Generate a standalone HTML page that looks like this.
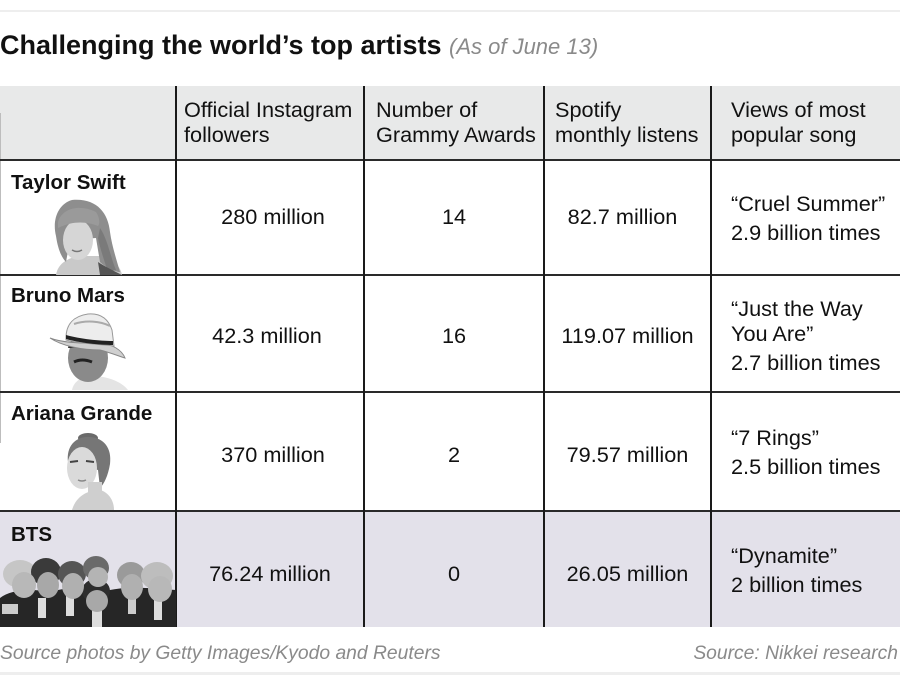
<!DOCTYPE html>
<html>
<head>
<meta charset="utf-8">
<style>
  html,body{margin:0;padding:0;background:#fff;}
  body{width:900px;height:675px;position:relative;overflow:hidden;font-family:"Liberation Sans",Arial,sans-serif;color:#111;}
  .a{position:absolute;white-space:nowrap;}
  .t{font-size:21.7px;line-height:25px;}
  .c{text-align:center;}
  .hl{position:absolute;left:0;width:900px;height:2px;background:#2a2a2a;}
  .vl{position:absolute;width:2px;background:#1a1a1a;top:86px;height:541px;}
  .nm{font-size:20.5px;font-weight:bold;line-height:20.5px;left:11px;}
</style>
</head>
<body>
<div class="a" style="left:0;top:10px;width:900px;height:2px;background:#eeeeee;"></div>
<div class="a" style="left:0;top:672px;width:900px;height:3px;background:#eeeeee;"></div>

<div class="a" style="left:0;top:32px;font-size:27px;line-height:27px;font-weight:bold;color:#111;">Challenging the world’s top artists</div>
<div class="a" style="left:449px;top:36px;font-size:22px;line-height:22px;font-style:italic;color:#8a8a8a;">(As of June 13)</div>

<div class="a" style="left:0;top:86px;width:900px;height:73px;background:#e8e9e9;"></div>
<div class="a" style="left:0;top:512px;width:900px;height:115px;background:#e3e1ea;"></div>

<div class="a" style="left:0;top:113px;width:1px;height:330px;background:#bdbdbd;"></div>

<div class="hl" style="top:159px;"></div>
<div class="hl" style="top:274px;"></div>
<div class="hl" style="top:391px;"></div>
<div class="hl" style="top:510px;"></div>

<div class="vl" style="left:175px;"></div>
<div class="vl" style="left:363px;"></div>
<div class="vl" style="left:543px;"></div>
<div class="vl" style="left:710px;"></div>

<div class="a t" style="left:184px;top:97px;">Official Instagram<br>followers</div>
<div class="a t" style="left:376px;top:97px;">Number of<br>Grammy Awards</div>
<div class="a t" style="left:555px;top:97px;">Spotify<br>monthly listens</div>
<div class="a t" style="left:731px;top:97px;">Views of most<br>popular song</div>

<div class="a nm" style="top:173px;">Taylor Swift</div>
<div class="a nm" style="top:286px;">Bruno Mars</div>
<div class="a nm" style="top:404px;">Ariana Grande</div>
<div class="a nm" style="top:525px;">BTS</div>

<div class="a t c" style="left:177px;width:192px;top:204px;">280 million</div>
<div class="a t c" style="left:365px;width:178px;top:204px;">14</div>
<div class="a t c" style="left:545px;width:155px;top:204px;">82.7 million</div>
<div class="a t" style="left:731px;top:191px;">“Cruel Summer”</div>
<div class="a t" style="left:731px;top:220px;">2.9 billion times</div>

<div class="a t c" style="left:177px;width:180px;top:323px;">42.3 million</div>
<div class="a t c" style="left:365px;width:178px;top:323px;">16</div>
<div class="a t c" style="left:545px;width:165px;top:323px;">119.07 million</div>
<div class="a t" style="left:731px;top:296px;">“Just the Way<br>You Are”</div>
<div class="a t" style="left:731px;top:350px;">2.7 billion times</div>

<div class="a t c" style="left:177px;width:192px;top:442px;">370 million</div>
<div class="a t c" style="left:365px;width:178px;top:442px;">2</div>
<div class="a t c" style="left:545px;width:165px;top:442px;">79.57 million</div>
<div class="a t" style="left:731px;top:425px;">“7 Rings”</div>
<div class="a t" style="left:731px;top:454px;">2.5 billion times</div>

<div class="a t c" style="left:177px;width:186px;top:561px;">76.24 million</div>
<div class="a t c" style="left:365px;width:178px;top:561px;">0</div>
<div class="a t c" style="left:545px;width:165px;top:561px;">26.05 million</div>
<div class="a t" style="left:731px;top:543px;">“Dynamite”</div>
<div class="a t" style="left:731px;top:572px;">2 billion times</div>

<div class="a" style="left:0;top:644px;font-size:19.3px;line-height:19px;font-style:italic;color:#8a8a8a;">Source photos by Getty Images/Kyodo and Reuters</div>
<div class="a" style="right:2px;top:644px;font-size:19.3px;line-height:19px;font-style:italic;color:#8a8a8a;">Source: Nikkei research</div>

<svg class="a" style="left:0;top:0;" width="900" height="675" viewBox="0 0 900 675">
  <!-- Taylor Swift -->
  <g>
    <path d="M56 275 C58 262 70 258 78 256 L100 256 C110 258 120 264 122 275 Z" fill="#c9c9c9"/>
    <path d="M72 200 C58 204 52 220 56 236 C58 250 62 258 66 262 L70 240 L96 238 L100 262 C106 268 116 272 120 272 C116 258 112 246 110 232 C108 212 96 198 72 200 Z" fill="#8e8e8e"/>
    <ellipse cx="78" cy="240" rx="15" ry="20" fill="#d6d6d6"/>
    <path d="M58 222 C62 208 80 204 96 212 C100 218 100 224 98 226 C88 222 74 220 58 228 Z" fill="#9a9a9a"/>
    <path d="M100 228 C108 240 110 256 116 270 L108 272 C104 260 100 248 98 238 Z" fill="#7a7a7a"/>
    <path d="M98 262 C104 266 112 270 120 274 L122 275 L100 275 Z" fill="#555"/>
    <path d="M72 250 Q77 253 82 250" stroke="#777" stroke-width="1.5" fill="none"/>
  </g>
  <!-- Bruno Mars -->
  <g>
    <path d="M72 390 C74 380 84 376 92 376 C104 376 120 380 128 390 Z" fill="#e4e4e4"/>
    <ellipse cx="88" cy="358" rx="20" ry="24" fill="#8a8a8a"/>
    <path d="M68 348 C70 338 80 334 90 334 C100 334 108 340 110 350 L104 346 L72 348 Z" fill="#333"/>
    <path d="M74 362 Q82 358 92 362" stroke="#222" stroke-width="3" fill="none"/>
    <path d="M50 338 C60 342 80 344 100 343 C112 344 122 350 125 358 C116 355 108 352 100 350 C82 350 62 346 50 338 Z" fill="#d0d0d0" stroke="#888" stroke-width="1"/>
    <path d="M66 338 C66 324 74 316 88 314 C100 313 108 318 112 330 L114 346 C100 344 80 344 66 340 Z" fill="#ededed" stroke="#999" stroke-width="1"/>
    <path d="M66 335 C80 339 100 341 113 341 L113 345 C100 345 80 343 66 339 Z" fill="#222"/>
    <path d="M74 324 C86 320 100 321 110 326" stroke="#aaa" stroke-width="2" fill="none"/>
  </g>
  <!-- Ariana Grande -->
  <g>
    <path d="M72 510 C76 496 88 490 100 490 C108 492 114 500 114 510 Z" fill="#cfcfcf"/>
    <ellipse cx="88" cy="438" rx="10" ry="5" fill="#6a6a6a"/>
    <path d="M68 462 C66 446 76 436 90 437 C104 438 112 448 110 464 C108 476 104 484 100 488 L98 470 Z" fill="#767676"/>
    <ellipse cx="82" cy="468" rx="15" ry="21" fill="#dadada"/>
    <path d="M70 462 L78 461 M86 461 L94 462" stroke="#444" stroke-width="2"/>
    <path d="M78 480 Q82 482 86 480" stroke="#888" stroke-width="1.5" fill="none"/>
    <rect x="88" y="482" width="14" height="14" fill="#cfcfcf"/>
  </g>
  <!-- BTS -->
  <g>
    <path d="M0 598 C10 590 30 588 50 592 C70 586 90 588 110 590 C130 586 150 588 176 590 L176 627 L0 627 Z" fill="#262626"/>
    <rect x="38" y="598" width="8" height="20" fill="#ddd"/>
    <rect x="66" y="596" width="8" height="20" fill="#ddd"/>
    <rect x="92" y="606" width="10" height="21" fill="#ddd"/>
    <rect x="128" y="594" width="8" height="20" fill="#ccc"/>
    <rect x="154" y="598" width="8" height="22" fill="#ddd"/>
    <rect x="2" y="604" width="16" height="10" fill="#ccc"/>
    <ellipse cx="20" cy="574" rx="17" ry="14" fill="#c6c6c6"/>
    <ellipse cx="46" cy="572" rx="15" ry="14" fill="#3a3a3a"/>
    <ellipse cx="72" cy="574" rx="14" ry="13" fill="#555"/>
    <ellipse cx="96" cy="568" rx="13" ry="12" fill="#6a6a6a"/>
    <ellipse cx="131" cy="575" rx="14" ry="13" fill="#9a9a9a"/>
    <ellipse cx="157" cy="576" rx="16" ry="14" fill="#bdbdbd"/>
    <ellipse cx="96" cy="591" rx="14" ry="12" fill="#2e2e2e"/>
    <ellipse cx="24" cy="585" rx="12" ry="13" fill="#b8b8b8"/>
    <ellipse cx="48" cy="585" rx="11" ry="13" fill="#a8a8a8"/>
    <ellipse cx="73" cy="586" rx="11" ry="13" fill="#b0b0b0"/>
    <ellipse cx="98" cy="577" rx="10" ry="10" fill="#b4b4b4"/>
    <ellipse cx="132" cy="587" rx="11" ry="13" fill="#b0b0b0"/>
    <ellipse cx="160" cy="589" rx="12" ry="13" fill="#b8b8b8"/>
    <ellipse cx="97" cy="601" rx="11" ry="11" fill="#a8a8a8"/>
  </g>
</svg>
</body>
</html>
